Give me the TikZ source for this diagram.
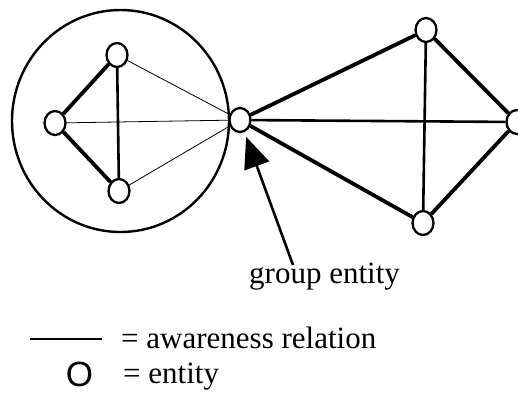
\documentclass[tikz,border=0pt]{standalone}
\usepackage{fontspec}
\setmainfont{Liberation Serif}
\newfontfamily\legendsans{Liberation Sans}
\usetikzlibrary{shapes.geometric,arrows.meta}
\tikzset{
  ent/.style={ellipse,draw,fill=white,line width=2.3pt,minimum width=21pt,minimum height=24pt,inner sep=0pt},
  thickrel/.style={line width=3.8pt},
  medrel/.style={line width=2.6pt},
  thinrel/.style={line width=0.8pt},
  lbl/.style={anchor=base west,inner sep=0pt,font=\fontsize{31}{37}\selectfont}
}
\begin{document}
\begin{tikzpicture}[x=1pt,y=-1pt]
\useasboundingbox (0,0) rectangle (518,392);
\clip (0,0) rectangle (518,392);
% group circle
\draw[line width=2.4pt] (120.5,121) ellipse [x radius=108.5,y radius=111];
% entities
\node[ent] (L) at (55,123) {};
\node[ent] (T) at (117,55) {};
\node[ent] (B) at (119,191) {};
\node[ent] (G) at (240,120) {};
\node[ent] (RT) at (426,30) {};
\node[ent] (RB) at (423,223) {};
\node[ent] (R) at (517,122) {};
% relations inside the group
\draw[thickrel] (L) -- (T);
\draw[thickrel] (L) -- (B);
\draw[medrel] (T) -- (B);
\draw[thinrel] (T) -- (G);
\draw[thinrel] (L) -- (G);
\draw[thinrel] (B) -- (G);
% relations of the group entity
\draw[thickrel] (G) -- (RT);
\draw[thickrel] (G) -- (RB);
\draw[medrel] (G) -- (R);
\draw[medrel] (RT) -- (RB);
\draw[thickrel] (RT) -- (R);
\draw[thickrel] (RB) -- (R);
% label and arrow
\node[lbl] (glabel) at (249,283) {group entity};
\coordinate (tail) at (293,265);
\draw[line width=2.6pt,-{Triangle[length=31pt,width=26pt]},shorten >=5pt] (tail) -- (G);
% legend
\coordinate (l1) at (30,339);
\coordinate (l2) at (102,339);
\draw[line width=2.4pt] (l1) -- (l2);
\node[lbl] (leg1) at (121,348) {= awareness relation};
\node[anchor=base,inner sep=0pt,font=\legendsans\fontsize{35}{40}\selectfont] (legO) at (79.5,386) {O};
\node[lbl] (leg2) at (123,383) {= entity};
\end{tikzpicture}
\end{document}
